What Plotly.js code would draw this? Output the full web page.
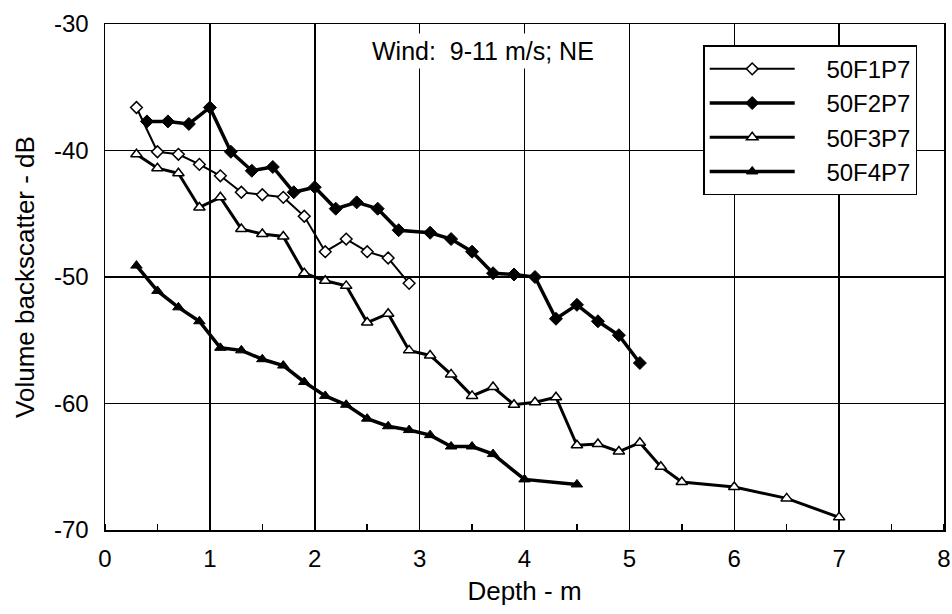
<!DOCTYPE html>
<html>
<head>
<meta charset="utf-8">
<script src="https://cdn.plot.ly/plotly-3.0.1.min.js"></script>
<style>
  html, body { margin: 0; padding: 0; background: #ffffff; }
  #chart { width: 952px; height: 614px; }
</style>
</head>
<body>
<div id="chart"></div>
<script>
// ---- Data ----
const seriesNames = ["50F1P7", "50F2P7", "50F3P7", "50F4P7"];

const depthF1 = [0.3, 0.5, 0.7, 0.9, 1.1, 1.3, 1.5, 1.7, 1.9, 2.1, 2.3, 2.5, 2.7, 2.9];
const svF1 = [-36.6, -40.1, -40.3, -41.1, -42.0, -43.3, -43.5, -43.7, -45.2, -48.0, -47.0, -48.0, -48.5, -50.5];

const depthF2 = [0.4, 0.6, 0.8, 1.0, 1.2, 1.4, 1.6, 1.8, 2.0, 2.2, 2.4, 2.6, 2.8, 3.1, 3.3, 3.5, 3.7, 3.9, 4.1, 4.3, 4.5, 4.7, 4.9, 5.1];
const svF2 = [-37.7, -37.7, -37.9, -36.6, -40.1, -41.6, -41.3, -43.3, -42.9, -44.6, -44.1, -44.6, -46.3, -46.5, -47.0, -48.0, -49.7, -49.8, -50.0, -53.3, -52.2, -53.5, -54.6, -56.8];

const depthF3 = [0.3, 0.5, 0.7, 0.9, 1.1, 1.3, 1.5, 1.7, 1.9, 2.1, 2.3, 2.5, 2.7, 2.9, 3.1, 3.3, 3.5, 3.7, 3.9, 4.1, 4.3, 4.5, 4.7, 4.9, 5.1, 5.3, 5.5, 6.0, 6.5, 7.0];
const svF3 = [-40.3, -41.4, -41.8, -44.5, -43.7, -46.2, -46.6, -46.8, -49.7, -50.3, -50.7, -53.6, -52.9, -55.8, -56.2, -57.7, -59.4, -58.7, -60.1, -59.9, -59.5, -63.3, -63.2, -63.8, -63.1, -65.0, -66.2, -66.6, -67.5, -69.0];

const depthF4 = [0.3, 0.5, 0.7, 0.9, 1.1, 1.3, 1.5, 1.7, 1.9, 2.1, 2.3, 2.5, 2.7, 2.9, 3.1, 3.3, 3.5, 3.7, 4.0, 4.5];
const svF4 = [-49.1, -51.1, -52.4, -53.5, -55.6, -55.8, -56.5, -57.0, -58.3, -59.4, -60.1, -61.2, -61.8, -62.1, -62.5, -63.4, -63.4, -64.0, -66.0, -66.4];

const xTickVals = [0, 1, 2, 3, 4, 5, 6, 7, 8];
const xTickText = ["0", "1", "2", "3", "4", "5", "6", "7", "8"];
const yTickVals = [-70, -60, -50, -40, -30];
const yTickText = ["-70", "-60", "-50", "-40", "-30"];

const windNote = "Wind:  9-11 m/s; NE";
const xTitle = "Depth - m";
const yTitle = "Volume backscatter - dB";

// ---- Styles ----
const FONT = "Liberation Sans, Arial, Helvetica, sans-serif";
const GAP = "\u00a0\u00a0\u00a0\u00a0"; // visual gap between legend sample and label

const traces = [
  {
    x: depthF1, y: svF1, name: GAP + seriesNames[0], type: "scatter", mode: "lines+markers",
    line: { color: "#000000", width: 2 },
    marker: { symbol: "diamond", size: 9, color: "#ffffff", line: { color: "#000000", width: 1.5 } }
  },
  {
    x: depthF2, y: svF2, name: GAP + seriesNames[1], type: "scatter", mode: "lines+markers",
    line: { color: "#000000", width: 3.5 },
    marker: { symbol: "diamond", size: 10, color: "#000000", line: { color: "#000000", width: 1 } }
  },
  {
    x: depthF3, y: svF3, name: GAP + seriesNames[2], type: "scatter", mode: "lines+markers",
    line: { color: "#000000", width: 3 },
    marker: { symbol: "triangle-up", size: 10, color: "#ffffff", line: { color: "#000000", width: 1.5 } }
  },
  {
    x: depthF4, y: svF4, name: GAP + seriesNames[3], type: "scatter", mode: "lines+markers",
    line: { color: "#000000", width: 3.5 },
    marker: { symbol: "triangle-up", size: 10, color: "#000000", line: { color: "#000000", width: 1 } }
  }
];

const layout = {
  width: 952,
  height: 614,
  paper_bgcolor: "#ffffff",
  plot_bgcolor: "#ffffff",
  margin: { l: 105, r: 8, t: 24, b: 84, pad: 0 },
  font: { family: FONT, color: "#000000", size: 24 },
  showlegend: true,
  legend: {
    x: 0.713, y: 0.958, xanchor: "left", yanchor: "top",
    bgcolor: "#ffffff", bordercolor: "#000000", borderwidth: 1.5,
    font: { family: FONT, size: 24, color: "#000000" },
    itemwidth: 85,
    tracegroupgap: 0
  },
  xaxis: {
    range: [0, 8],
    tickmode: "array", tickvals: xTickVals, ticktext: xTickText,
    ticks: "", ticklabelstandoff: 7,
    tickfont: { family: FONT, size: 24, color: "#000000" },
    showgrid: true, gridcolor: "#000000", gridwidth: 1.5,
    showline: true, linecolor: "#000000", linewidth: 1.5, mirror: true,
    zeroline: false,
    minor: { dtick: 0.5, tick0: 0, ticks: "inside", ticklen: 6, tickwidth: 1.5, tickcolor: "#000000", showgrid: false },
    title: { text: xTitle, font: { family: FONT, size: 26, color: "#000000" }, standoff: 10 }
  },
  yaxis: {
    range: [-70, -30],
    tickmode: "array", tickvals: yTickVals, ticktext: yTickText,
    ticks: "", ticklabelstandoff: 10,
    tickfont: { family: FONT, size: 24, color: "#000000" },
    showgrid: true, gridcolor: "#000000", gridwidth: 1.5,
    showline: true, linecolor: "#000000", linewidth: 1.5, mirror: true,
    zeroline: false,
    title: { text: yTitle, font: { family: FONT, size: 26, color: "#000000" }, standoff: 12 }
  },
  annotations: [
    {
      text: windNote, xref: "paper", yref: "paper",
      x: 0.4505, y: 0.9466, xanchor: "center", yanchor: "middle",
      showarrow: false, bgcolor: "#ffffff", borderpad: 3,
      font: { family: FONT, size: 25, color: "#000000" }
    }
  ]
};

Plotly.newPlot("chart", traces, layout, { displayModeBar: false, staticPlot: true });
</script>
</body>
</html>
